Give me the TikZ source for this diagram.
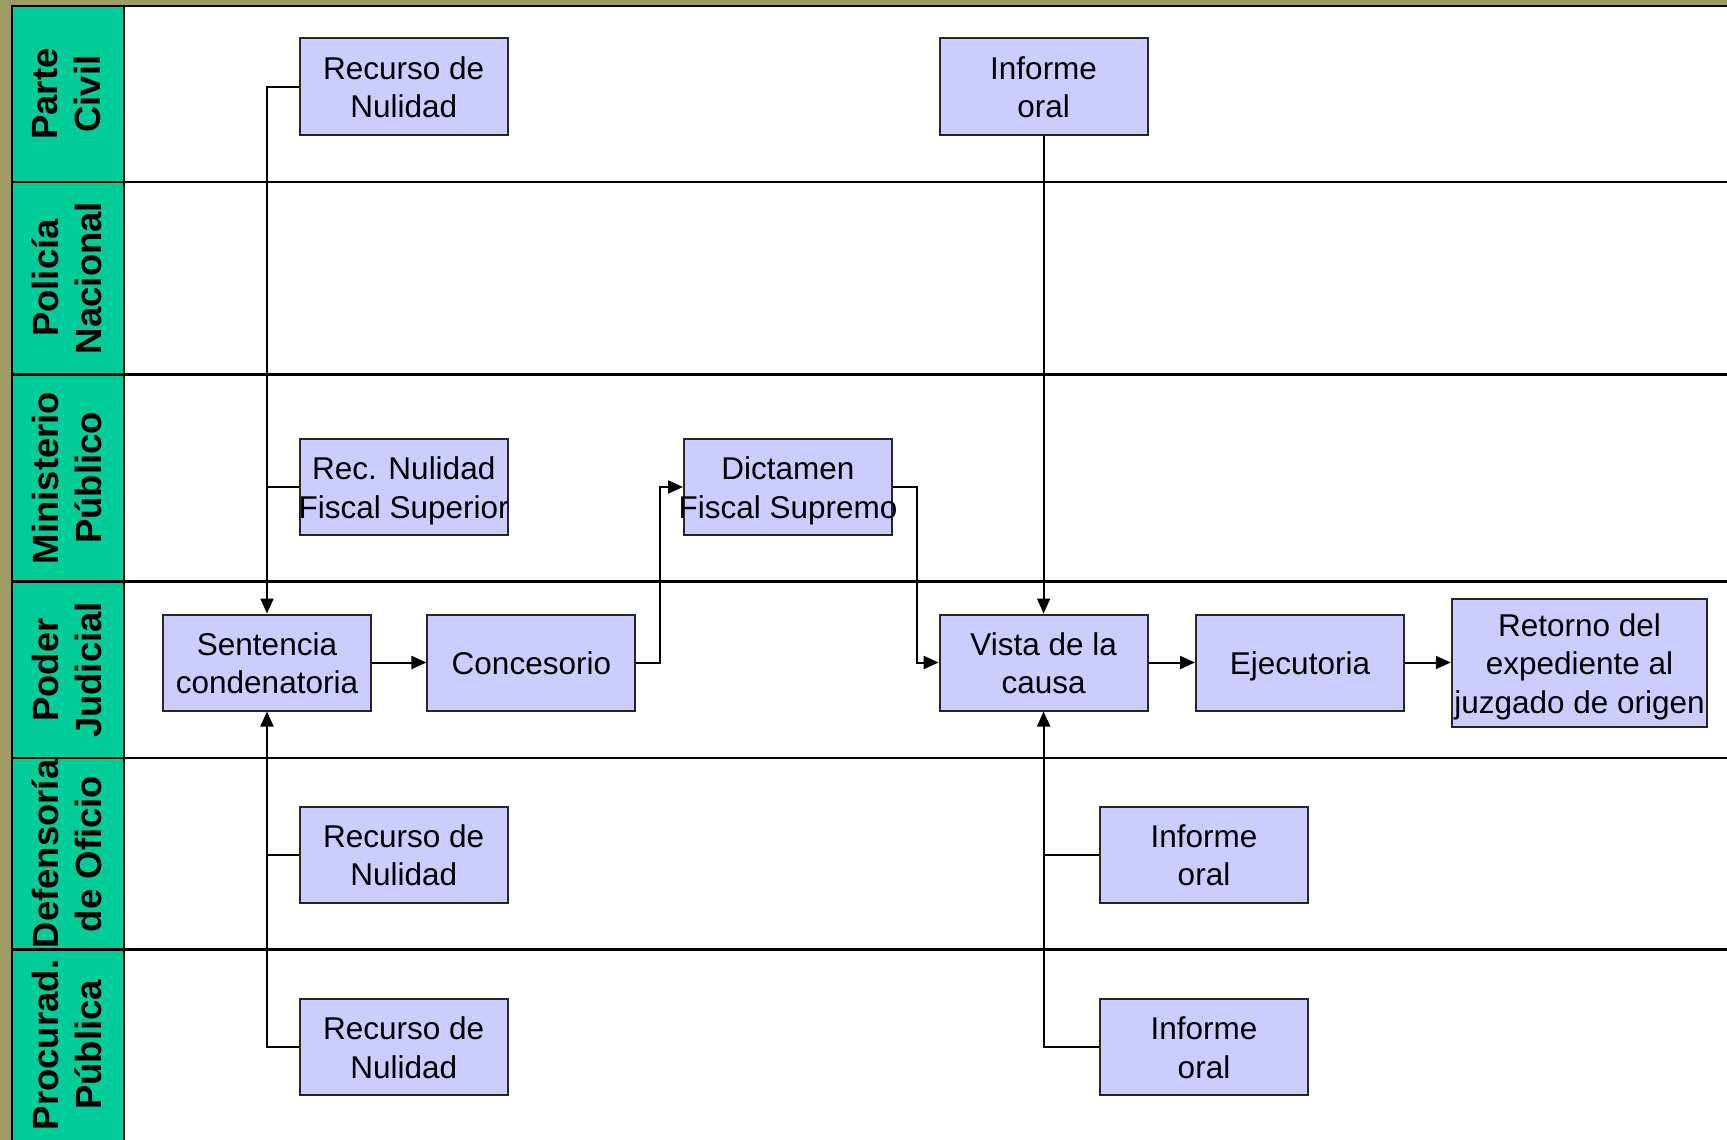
\documentclass[tikz,border=0pt]{standalone}
\usepackage{fontspec}
\setmainfont{Liberation Sans}
\usetikzlibrary{arrows.meta}
\definecolor{olive}{RGB}{158,156,98}
\definecolor{lanegreen}{RGB}{0,204,153}
\definecolor{boxfill}{RGB}{204,204,255}
\tikzset{
  boxnode/.style={draw=black!85, fill=boxfill, line width=2pt, minimum width=208pt,
    minimum height=96pt, inner xsep=-25pt, inner ysep=0pt, align=center,
    text height=62pt, text depth=-1pt,
    font=\fontsize{31.5}{38.5}\selectfont},
  oneline/.style={text height=23pt},
  threeline/.style={text height=100pt},
  lanelabel/.style={rotate=90, align=center, font=\bfseries\fontsize{36.5}{43}\selectfont},
  laneline/.style={line width=2.5pt, black},
  conn/.style={line width=2pt, black},
  arr/.style={conn, -{Triangle[length=15pt,width=13pt]}}
}
\begin{document}
\begin{tikzpicture}[x=1pt,y=-1pt]
\useasboundingbox (0,0) rectangle (1727,1140);
% background
\fill[olive] (0,0) rectangle (1727,1140);
\fill[white] (11,6) rectangle (1727,1140);
\fill[lanegreen] (11,6) rectangle (124,1140);
% lane lines
\foreach \yy in {6,182,374.5,581.5,758,949.5}{
  \draw[laneline] (11,\yy) -- (1727,\yy);
}
\draw[laneline] (12,6) -- (12,1140);
\draw[laneline] (124,6) -- (124,1140);
% lane labels
\node[lanelabel] (l1) at (67,94) {Parte\\Civil};
\node[lanelabel] (l2) at (67,278) {Policía\\Nacional};
\node[lanelabel] (l3) at (67,478) {Ministerio\\Público};
\node[lanelabel] (l4) at (67,670) {Poder\\Judicial};
\node[lanelabel] (l5) at (67,854) {Defensoría\\de Oficio};
\node[lanelabel] (l6) at (67,1045) {Procurad.\\Pública};
% boxes
\node[boxnode] (rn1) at (403.7,86.5) {Recurso de\\Nulidad};
\node[boxnode] (io1) at (1043.6,86.5) {Informe\\oral};
\node[boxnode] (rnfs) at (403.7,487) {Rec. Nulidad\\Fiscal Superior};
\node[boxnode] (dict) at (788,487) {Dictamen\\Fiscal Supremo};
\node[boxnode] (sent) at (267,662.5) {Sentencia\\condenatoria};
\node[boxnode, oneline] (conc) at (531.4,662.5) {Concesorio};
\node[boxnode] (vista) at (1043.6,662.5) {Vista de la\\causa};
\node[boxnode, oneline] (ejec) at (1300,662.5) {Ejecutoria};
\node[boxnode, threeline, minimum width=255.5pt, minimum height=128pt] (ret) at (1579.5,663) {Retorno del\\expediente al\\juzgado de origen};
\node[boxnode] (rn2) at (403.7,854.5) {Recurso de\\Nulidad};
\node[boxnode] (io2) at (1204,854.5) {Informe\\oral};
\node[boxnode] (rn3) at (403.7,1047) {Recurso de\\Nulidad};
\node[boxnode] (io3) at (1204,1047) {Informe\\oral};
% connectors
\draw[arr] (rn1.west) -| (sent.north);
\draw[conn] (rnfs.west) -- (rnfs.west -| sent.north);
\draw[arr] (rn3.west) -| (sent.south);
\draw[conn] (rn2.west) -- (rn2.west -| sent.south);
\draw[arr] (sent.east) -- (conc.west);
\draw[arr] (conc.east) -- ++(24,0) |- (dict.west);
\draw[arr] (dict.east) -- ++(23.5,0) |- (vista.west);
\draw[arr] (io1.south) -- (vista.north);
\draw[arr] (io3.west) -| (vista.south);
\draw[conn] (io2.west) -- (io2.west -| vista.south);
\draw[arr] (vista.east) -- (ejec.west);
\draw[arr] (ejec.east) -- (ejec.east -| ret.west);
\end{tikzpicture}
\end{document}
